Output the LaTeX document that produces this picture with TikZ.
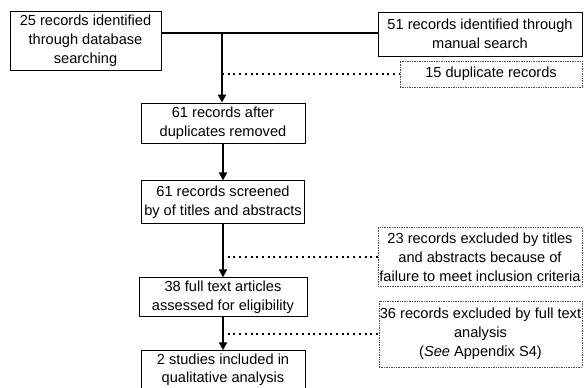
\documentclass[tikz,border=0pt]{standalone}
\usepackage{fontspec}
\setmainfont{Liberation Sans}
\usetikzlibrary{arrows.meta,positioning}

\begin{document}
\begin{tikzpicture}[x=1pt,y=-1pt,
  node distance=37pt,
  box/.style={draw=black,line width=0.9pt,align=center,inner sep=1pt,font=\fontsize{14.6}{18.8}\selectfont},
  dotbox/.style={box,draw=black!70,line width=0.6pt,dash pattern=on 0.8pt off 0.9pt},
  flow/.style={line width=2.4pt},
  arr/.style={flow,-{Triangle[length=8pt,width=8pt]}},
  skip/.style={line width=2pt,dash pattern=on 2pt off 3.7pt}]
  \useasboundingbox (0,0) rectangle (584,388);
  \node[box,minimum width=151pt,minimum height=59pt] (search) at (85.5,40.5) {25 records identified\\through database\\searching};
  \node[box,minimum width=204pt,minimum height=44pt] (manual) at (480,34) {51 records identified through\\manual search};
  \node[dotbox,minimum width=182pt,minimum height=26pt] (dups) at (491,74) {15 duplicate records};
  \node[box,minimum width=164pt,minimum height=40pt] (dedup) at (223,123) {61 records after\\duplicates removed};
  \node[box,minimum width=163pt,minimum height=43pt,below=of dedup] (screened) {61 records screened\\by of titles and abstracts};
  \node[box,minimum width=168pt,minimum height=39pt,below=53pt of screened] (fulltext) {38 full text articles\\assessed for eligibility};
  \node[box,minimum width=164pt,minimum height=38pt,below=33pt of fulltext] (included) {2 studies included in\\qualitative analysis};
  \node[dotbox,minimum width=204pt,minimum height=59pt] (exclabs) at (480,257) {23 records excluded by titles\\and abstracts because of\\failure to meet inclusion criteria};
  \node[dotbox,minimum width=203pt,minimum height=66pt] (exclfull) at (480.5,334) {36 records excluded by full text\\analysis\\(\textit{See} Appendix S4)};
  \coordinate (join) at (222,33);
  % merge of the two searches
  \draw[flow] (search.east |- join) -- (join -| manual.west);
  \draw[arr] (join) -- (join |- dedup.north);
  \draw[arr] (dedup) -- (screened);
  \draw[arr] (screened) -- (fulltext);
  \draw[arr] (fulltext) -- (included);
  % records taken out
  \draw[skip] (join |- dups.west) -- (dups.west);
  \draw[skip] (join |- exclabs.west) -- (exclabs.west);
  \draw[skip] (join |- exclfull.west) -- (exclfull.west);
\end{tikzpicture}
\end{document}
